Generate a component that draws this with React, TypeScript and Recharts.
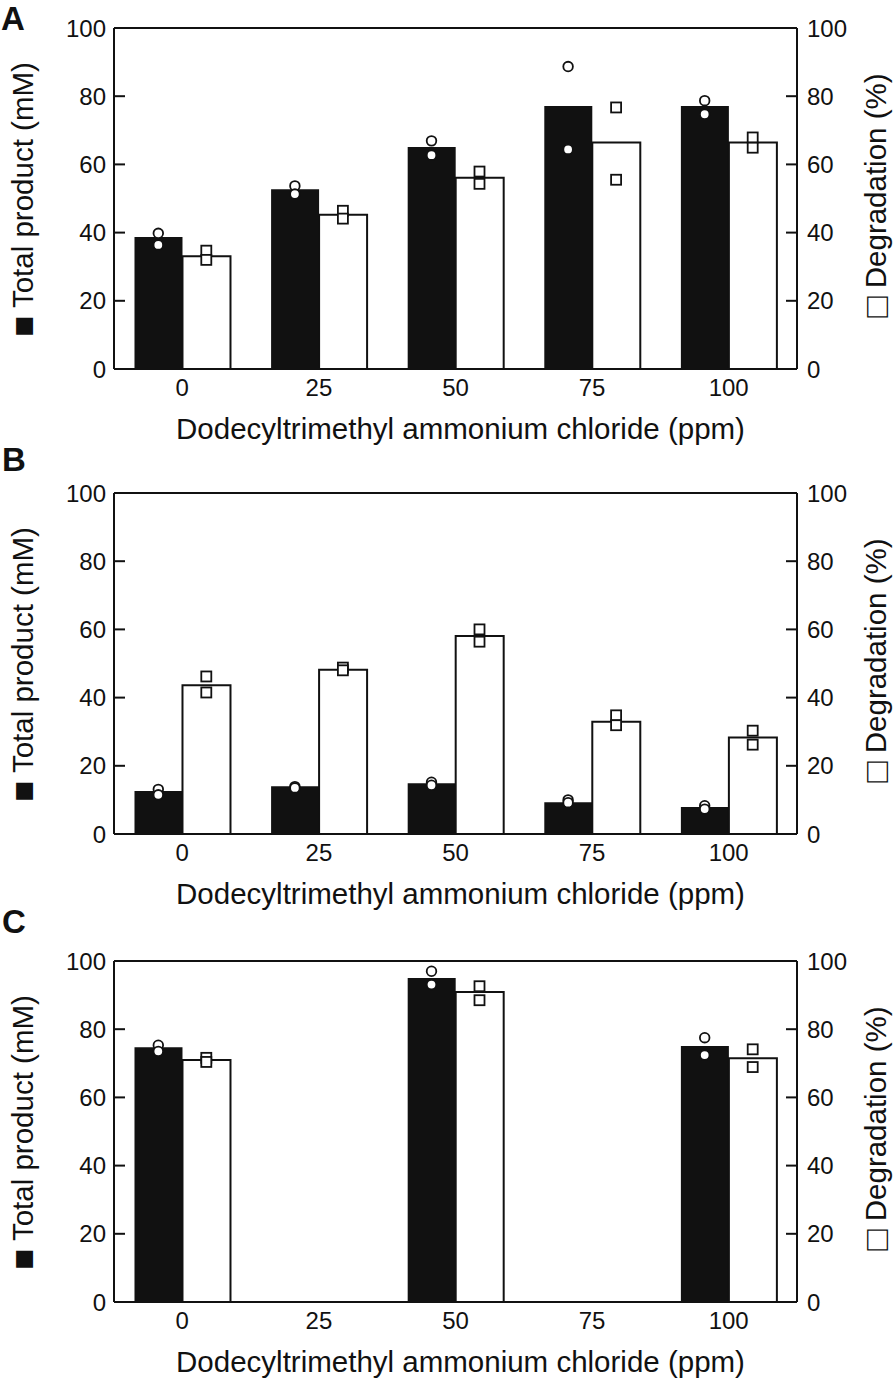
import React from 'react';
import { Bar, ComposedChart, ReferenceLine, Scatter, XAxis, YAxis } from 'recharts';

const FONT = '"Liberation Sans", Arial, Helvetica, sans-serif';
const INK = '#111111';

const categories = ['0', '25', '50', '75', '100'];
const yTicks = [0, 20, 40, 60, 80, 100];

// panel A
const totalA = [38.7, 52.7, 65.1, 77.1, 77.1];
const degradationA = [33.1, 45.2, 56.1, 66.4, 66.4];
const totalRep1A = [39.8, 53.7, 66.9, 88.7, 78.7];
const totalRep2A = [36.4, 51.3, 62.7, 64.4, 74.7];
const degRep1A = [34.7, 46.4, 57.9, 76.7, 67.9];
const degRep2A = [32.0, 44.1, 54.3, 55.5, 64.9];

// panel B
const totalB = [12.6, 14.0, 14.9, 9.3, 7.9];
const degradationB = [43.6, 48.2, 58.1, 32.9, 28.3];
const totalRep1B = [13.1, 13.9, 15.2, 10.0, 8.3];
const totalRep2B = [11.5, 13.5, 14.3, 9.2, 7.3];
const degRep1B = [46.2, 48.8, 60.0, 34.8, 30.3];
const degRep2B = [41.5, 48.0, 56.4, 31.9, 26.2];

// panel C (25 and 75 ppm not measured)
const totalC = [74.7, null, 95.0, null, 75.1];
const degradationC = [71.0, null, 90.9, null, 71.5];
const totalRep1C = [75.3, null, 97.0, null, 77.5];
const totalRep2C = [73.5, null, 93.1, null, 72.4];
const degRep1C = [71.6, null, 92.6, null, 74.1];
const degRep2C = [70.4, null, 88.5, null, 68.9];

type Val = number | null;

function buildRows(total: Val[], deg: Val[], t1: Val[], t2: Val[], d1: Val[], d2: Val[]) {
  return categories.map((ppm, i) => ({
    ppm,
    total: total[i],
    degradation: deg[i],
    t1: t1[i],
    t2: t2[i],
    d1: d1[i],
    d2: d2[i],
  }));
}

const rowsA = buildRows(totalA, degradationA, totalRep1A, totalRep2A, degRep1A, degRep2A);
const rowsB = buildRows(totalB, degradationB, totalRep1B, totalRep2B, degRep1B, degRep2B);
const rowsC = buildRows(totalC, degradationC, totalRep1C, totalRep2C, degRep1C, degRep2C);

const PLOT_TOP = 28;
const PLOT_H = 341;
const BAR_OFFSET = 24;
const TITLE_SIZE = 29.5;
const TICK_SIZE = 24;

function LeftTick({ x, y, payload }: any) {
  const axisX = x + 8;
  return (
    <g>
      <line x1={axisX} x2={axisX + 11} y1={y} y2={y} stroke={INK} strokeWidth={2} />
      <text x={x} y={y} dy="0.36em" textAnchor="end" fontSize={TICK_SIZE} fill={INK} fontFamily={FONT}>
        {payload.value}
      </text>
    </g>
  );
}

function RightTick({ x, y, payload }: any) {
  const axisX = x - 10;
  return (
    <g>
      <line x1={axisX - 11} x2={axisX} y1={y} y2={y} stroke={INK} strokeWidth={2} />
      <text x={x} y={y} dy="0.36em" textAnchor="start" fontSize={TICK_SIZE} fill={INK} fontFamily={FONT}>
        {payload.value}
      </text>
    </g>
  );
}

function marker(kind: 'circle' | 'square', dx: number, key: string) {
  return (props: any) => {
    const { cx, cy, payload } = props;
    if (!payload || payload[key] == null || !Number.isFinite(cy)) return <g />;
    const x = cx + dx;
    if (kind === 'circle') {
      return <circle cx={x} cy={cy} r={4.8} fill="#fff" stroke={INK} strokeWidth={1.8} />;
    }
    return <rect x={x - 5} y={cy - 5} width={10} height={10} fill="#fff" stroke={INK} strokeWidth={1.8} />;
  };
}

function xTitle({ viewBox }: any) {
  return (
    <text
      x={viewBox.x + viewBox.width / 2 + 5}
      y={viewBox.y + 70}
      textAnchor="middle"
      fontSize={TITLE_SIZE}
      fill={INK}
      fontFamily={FONT}
    >
      Dodecyltrimethyl ammonium chloride (ppm)
    </text>
  );
}

function rotatedTitle(cx: number, shift: number, glyph: string, label: string) {
  return ({ viewBox }: any) => {
    const cy = viewBox.y + viewBox.height / 2 + shift;
    return (
      <text
        x={cx}
        y={cy}
        transform={`rotate(-90, ${cx}, ${cy})`}
        textAnchor="middle"
        dominantBaseline="central"
        fontSize={TITLE_SIZE}
        fill={INK}
        fontFamily={FONT}
      >
        <tspan fontSize={35}>{glyph}</tspan>
        <tspan> {label}</tspan>
      </text>
    );
  };
}

const leftTitle = rotatedTitle(22, 1, '■', 'Total product (mM)');
const rightTitle = rotatedTitle(875, -3, '□', 'Degradation (%)');

function Panel({ rows, top, height }: { rows: ReturnType<typeof buildRows>; top: number; height: number }) {
  return (
    <div style={{ position: 'absolute', left: 0, top, width: 896, height }}>
      <ComposedChart
        width={896}
        height={height}
        data={rows}
        margin={{ top: PLOT_TOP, right: 0, bottom: 0, left: 0 }}
        barCategoryGap="15%"
        barGap={0}
      >
        <XAxis
          dataKey="ppm"
          height={height - PLOT_TOP - PLOT_H}
          axisLine={{ stroke: INK, strokeWidth: 2 }}
          tickLine={false}
          tickSize={0}
          tickMargin={10}
          tick={{ fontSize: TICK_SIZE, fill: INK, fontFamily: FONT }}
          interval={0}
          label={xTitle}
        />
        <YAxis
          yAxisId="left"
          orientation="left"
          width={114}
          domain={[0, 100]}
          ticks={yTicks}
          interval={0}
          axisLine={{ stroke: INK, strokeWidth: 2 }}
          tickLine={false}
          tickSize={0}
          tickMargin={8}
          tick={<LeftTick />}
          label={leftTitle}
        />
        <YAxis
          yAxisId="right"
          orientation="right"
          width={99}
          domain={[0, 100]}
          ticks={yTicks}
          interval={0}
          axisLine={{ stroke: INK, strokeWidth: 2 }}
          tickLine={false}
          tickSize={0}
          tickMargin={10}
          tick={<RightTick />}
          label={rightTitle}
        />
        <ReferenceLine yAxisId="left" y={100} stroke={INK} strokeWidth={2} />
        <Bar yAxisId="left" dataKey="total" fill={INK} isAnimationActive={false} />
        <Bar
          yAxisId="right"
          dataKey="degradation"
          fill="#fff"
          stroke={INK}
          strokeWidth={2}
          isAnimationActive={false}
        />
        <Scatter yAxisId="left" dataKey="t1" shape={marker('circle', -BAR_OFFSET, 't1')} isAnimationActive={false} />
        <Scatter yAxisId="left" dataKey="t2" shape={marker('circle', -BAR_OFFSET, 't2')} isAnimationActive={false} />
        <Scatter yAxisId="right" dataKey="d1" shape={marker('square', BAR_OFFSET, 'd1')} isAnimationActive={false} />
        <Scatter yAxisId="right" dataKey="d2" shape={marker('square', BAR_OFFSET, 'd2')} isAnimationActive={false} />
      </ComposedChart>
    </div>
  );
}

export default function App() {
  return (
    <div style={{ position: 'absolute', left: 0, top: 0, width: 896, height: 1384, background: '#fff' }}>
      <Panel rows={rowsA} top={0} height={466} />
      <Panel rows={rowsB} top={465} height={466} />
      <Panel rows={rowsC} top={933} height={451} />
      <svg
        width={896}
        height={1384}
        style={{ position: 'absolute', left: 0, top: 0, pointerEvents: 'none' }}
      >
        <text x={1} y={30} fontSize={33} fontWeight="bold" fill={INK} fontFamily={FONT}>A</text>
        <text x={2} y={471} fontSize={33} fontWeight="bold" fill={INK} fontFamily={FONT}>B</text>
        <text x={2} y={933} fontSize={33} fontWeight="bold" fill={INK} fontFamily={FONT}>C</text>
      </svg>
    </div>
  );
}
